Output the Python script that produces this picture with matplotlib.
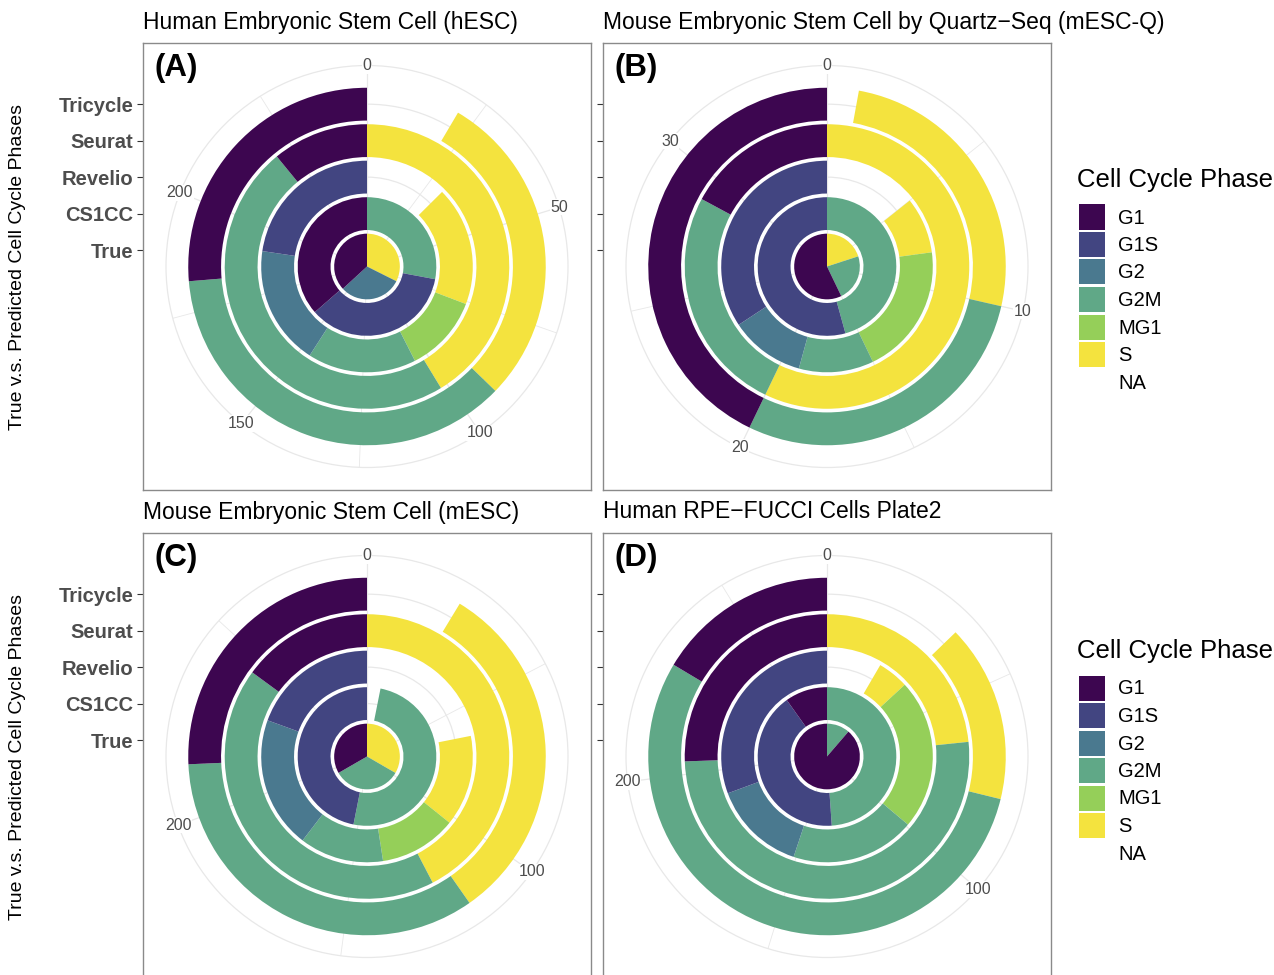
import matplotlib
matplotlib.use("Agg")
import matplotlib.pyplot as plt
from matplotlib.patches import Rectangle
import numpy as np

plt.rcParams['font.family'] = ['Liberation Sans', 'DejaVu Sans']

# rings from the centre outwards
methods = ['True', 'CS1CC', 'Revelio', 'Seurat', 'Tricycle']
phases = ['G1', 'G1S', 'G2', 'G2M', 'MG1', 'S', 'NA']
phase_colors = {'G1': '#3d0650', 'G1S': '#424581', 'G2': '#4a798f',
                'G2M': '#60a887', 'MG1': '#95cf59', 'S': '#f4e33e', 'NA': 'white'}
# clockwise order of the stacked segments (ggplot stacks last level first)
stack_order = ['NA', 'S', 'MG1', 'G2M', 'G2', 'G1S', 'G1']

# cell counts, one row per method, columns: G1, G1S, G2, G2M, MG1, S, NA
hesc = [[91, 0, 76, 0, 0, 80, 0],
        [90, 88, 0, 69, 0, 0, 0],
        [0, 56, 45, 41, 29, 45, 31],
        [27, 0, 0, 118, 0, 102, 0],
        [65, 0, 0, 90, 0, 71, 21]]
mesc_q = [[20, 0, 0, 8, 0, 7, 0],
          [0, 19, 0, 16, 0, 0, 0],
          [0, 12, 4, 4, 7, 3, 5],
          [6, 0, 0, 9, 0, 20, 0],
          [15, 0, 0, 10, 0, 9, 1]]
mesc = [[96, 0, 0, 96, 0, 96, 0],
        [0, 135, 0, 144, 0, 0, 9],
        [0, 56, 58, 37, 34, 40, 63],
        [43, 0, 0, 123, 0, 122, 0],
        [74, 0, 0, 98, 0, 91, 25]]
rpe = [[243, 0, 0, 31, 0, 0, 0],
       [27, 113, 0, 134, 0, 0, 0],
       [0, 84, 39, 52, 63, 13, 23],
       [70, 0, 0, 140, 0, 64, 0],
       [45, 0, 0, 150, 0, 44, 35]]

datasets = [hesc, mesc_q, mesc, rpe]
titles = ['Human Embryonic Stem Cell (hESC)',
          'Mouse Embryonic Stem Cell by Quartz\u2212Seq (mESC-Q)',
          'Mouse Embryonic Stem Cell (mESC)',
          'Human RPE\u2212FUCCI Cells Plate2']
tags = ['(A)', '(B)', '(C)', '(D)']
major_breaks = [[0, 50, 100, 150, 200], [0, 10, 20, 30], [0, 100, 200], [0, 100, 200]]
minor_breaks = [[25, 75, 125, 175, 225], [5, 15, 25], [50, 150, 250], [50, 150, 250]]

W, H = 1274, 975
fig = plt.figure(figsize=(W / 100, H / 100), dpi=100)


def rect(x0, y0, w, h):
    # pixel box (top-left origin) -> figure fraction
    return [x0 / W, 1 - (y0 + h) / H, w / W, h / H]


box_pos = [(143, 43), (603, 43), (143, 533), (603, 533)]
box_w, box_h = 448, 447
r_outer = 5.51   # outer circle = 0.45/0.4 of the data range
r_px = 201
grid_col = '#e8e8e8'
text_col = '#4d4d4d'

for k, counts in enumerate(datasets):
    x0, y0 = box_pos[k]
    cx, cy = x0 + box_w / 2, y0 + box_h / 2

    box = fig.add_axes(rect(x0, y0, box_w, box_h))
    box.set_xlim(0, 1)
    box.set_ylim(0, 1)
    box.set_xticks([])
    for s in box.spines.values():
        s.set_color('#8a8a8a')
        s.set_linewidth(1.0)

    ax = fig.add_axes(rect(cx - r_px, cy - r_px, 2 * r_px, 2 * r_px), projection='polar')
    ax.set_theta_zero_location('N')
    ax.set_theta_direction(-1)
    ax.set_rlim(0, r_outer)
    ax.patch.set_alpha(0)
    ax.set_axisbelow(True)

    total = max(sum(row) for row in counts)
    to_rad = lambda v: np.asarray(v) / total * 2 * np.pi

    for i, row in enumerate(counts):
        start = 0
        for ph in stack_order:
            n = row[phases.index(ph)]
            if n > 0 and ph != 'NA':
                ax.bar(to_rad(start), 0.9, width=to_rad(n), bottom=i, align='edge',
                       color=phase_colors[ph], linewidth=0, zorder=2)
            start += n

    ax.set_xticks(to_rad(major_breaks[k]))
    ax.set_xticks(to_rad(minor_breaks[k]), minor=True)
    ax.set_xticklabels([])
    ax.set_yticks(np.arange(len(methods)) + 0.45)
    ax.set_yticklabels([])
    ax.tick_params(axis='x', which='both', length=0)
    ax.xaxis.grid(True, which='major', color=grid_col, linewidth=0.9)
    ax.xaxis.grid(True, which='minor', color=grid_col, linewidth=0.6)
    ax.yaxis.grid(True, color=grid_col, linewidth=0.9)
    ax.spines['polar'].set_color(grid_col)
    ax.spines['polar'].set_linewidth(0.9)

    for b in major_breaks[k]:
        ax.text(to_rad(b), r_outer, str(b), ha='center', va='center', fontsize=11.5,
                color=text_col, clip_on=False, zorder=5,
                bbox=dict(facecolor='white', edgecolor='none', pad=0.5))

    # method ticks on the left border, placed at the ring centres
    ring_disp = ax.transData.transform([(0, i + 0.45) for i in range(len(methods))])
    ring_y = box.transAxes.inverted().transform(ring_disp)[:, 1]
    box.set_yticks(ring_y)
    box.tick_params(axis='y', length=4, width=0.8, color='#333333', pad=3)
    if k % 2 == 0:
        box.set_yticklabels(methods, fontsize=14.5, fontweight='bold', color=text_col)
        fig.text(18 / W, 1 - cy / H, 'True v.s. Predicted Cell Cycle Phases',
                 rotation=90, ha='center', va='center', fontsize=14)
    else:
        box.set_yticklabels([])

    box.text(0.025, 0.978, tags[k], transform=box.transAxes, ha='left', va='top',
             fontsize=22.5, fontweight='bold')
    fig.text(x0 / W, 1 - (y0 - 21) / H, titles[k], ha='left', va='center',
             fontsize=16.5)

# legends, one per row of panels
key_w, key_h, step = 26, 25, 27.5
for title_y in [180, 651]:
    fig.text(1077 / W, 1 - title_y / H, 'Cell Cycle Phase', ha='left', va='center',
             fontsize=18.5)
    for j, p in enumerate(phases):
        ky = title_y + 37 + j * step
        fig.patches.append(Rectangle((1079 / W, 1 - (ky + key_h / 2) / H), key_w / W, key_h / H,
                                     transform=fig.transFigure, facecolor=phase_colors[p],
                                     edgecolor='none'))
        fig.text(1118 / W, 1 - (ky + 1) / H, p, ha='left', va='center', fontsize=14.5)

fig.savefig('out.png', dpi=100)
